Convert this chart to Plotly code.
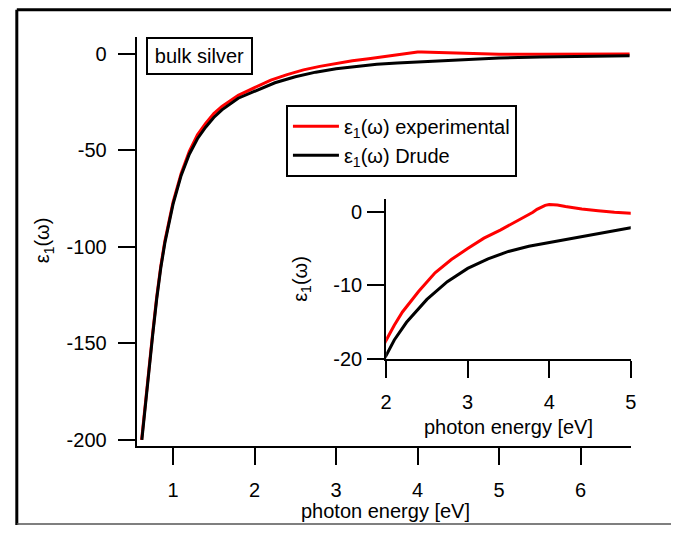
import plotly.graph_objects as go

# ---- data ----
energy_drude = [0.618, 0.65, 0.7, 0.75, 0.8, 0.85, 0.9, 0.95, 1.0, 1.1, 1.2, 1.3, 1.4,
                1.5, 1.6, 1.8, 2.0, 2.1, 2.25, 2.5, 2.75, 3.0, 3.25, 3.5, 3.75, 4.0,
                4.5, 5.0, 5.5, 6.0, 6.6]
eps_drude = [-200, -186, -166, -146, -127, -111, -98, -87, -78, -63, -52, -44, -38,
             -33, -29, -23, -19.5, -17.4, -15.0, -11.9, -9.5, -7.7, -6.4, -5.4, -4.7,
             -4.2, -3.1, -2.2, -1.7, -1.3, -1.0]

energy_exp = [0.615, 0.65, 0.7, 0.75, 0.8, 0.85, 0.9, 0.95, 1.0, 1.1, 1.2, 1.3, 1.4,
              1.5, 1.6, 1.8, 2.0, 2.1, 2.2, 2.4, 2.6, 2.8, 3.0, 3.2, 3.4, 3.6, 3.7,
              3.75, 3.8, 3.85, 3.9, 3.95, 4.0, 4.05, 4.1, 4.2, 4.4, 4.6, 4.8, 5.0,
              5.5, 6.0, 6.6]
eps_exp = [-200, -185, -165, -145, -126, -110, -97, -86, -77, -62, -50.5, -42, -36,
           -31, -27.3, -21.5, -17.4, -15.4, -13.6, -10.8, -8.3, -6.5, -5.0, -3.6, -2.5,
           -1.3, -0.7, -0.45, -0.1, 0.3, 0.6, 0.85, 0.95, 0.97, 0.9, 0.7, 0.36, 0.13,
           -0.1, -0.22, -0.2, -0.1, -0.05]

main_xticks = [1, 2, 3, 4, 5, 6]
main_xtick_text = ["1", "2", "3", "4", "5", "6"]
main_yticks = [0, -50, -100, -150, -200]
main_ytick_text = ["0", "-50", "-100", "-150", "-200"]
inset_xticks = [2, 3, 4, 5]
inset_xtick_text = ["2", "3", "4", "5"]
inset_yticks = [0, -10, -20]
inset_ytick_text = ["0", "-10", "-20"]

W, H = 677, 536
FONT = "Liberation Sans, Arial, sans-serif"
FS = 20


def px(x):
    return x / W


def py(y):
    return 1 - y / H


fig = go.Figure()

# main plot (experimental drawn first so the Drude curve lies on top)
fig.add_trace(go.Scatter(x=energy_exp, y=eps_exp, mode="lines",
                         line=dict(color="#ff0000", width=3),
                         name="ε<sub>1</sub>(ω) experimental", legendrank=1))
fig.add_trace(go.Scatter(x=energy_drude, y=eps_drude, mode="lines",
                         line=dict(color="black", width=3),
                         name="ε<sub>1</sub>(ω) Drude", legendrank=2))
# inset
fig.add_trace(go.Scatter(x=energy_exp, y=eps_exp, mode="lines",
                         line=dict(color="#ff0000", width=3), showlegend=False,
                         xaxis="x2", yaxis="y2"))
fig.add_trace(go.Scatter(x=energy_drude, y=eps_drude, mode="lines",
                         line=dict(color="black", width=3), showlegend=False,
                         xaxis="x2", yaxis="y2"))

axis_common = dict(showgrid=False, zeroline=False, showline=True, linecolor="black",
                   linewidth=2, ticks="outside", ticklen=17, tickwidth=2,
                   tickcolor="black", tickfont=dict(family=FONT, size=FS, color="black"))

fig.update_layout(
    width=W, height=H,
    margin=dict(l=0, r=0, t=0, b=0),
    paper_bgcolor="white", plot_bgcolor="rgba(0,0,0,0)",
    font=dict(family=FONT, size=FS, color="black"),
    xaxis=dict(domain=[px(133), px(636)], range=[0.554, 6.614], tickvals=main_xticks,
               ticktext=main_xtick_text, ticklabelstandoff=8, anchor="y", **axis_common),
    yaxis=dict(domain=[py(455), py(38)], range=[-203.0, 8.6], tickvals=main_yticks,
               ticktext=main_ytick_text, ticklabelstandoff=7, anchor="x", **axis_common),
    xaxis2=dict(domain=[px(387), px(636)], range=[2, 5], tickvals=inset_xticks,
                ticktext=inset_xtick_text, ticklabelstandoff=7, anchor="y2", **axis_common),
    yaxis2=dict(domain=[py(366.7), py(202.7)], range=[-20, 1.77], tickvals=inset_yticks,
                ticktext=inset_ytick_text, ticklabelstandoff=1, anchor="x2", **axis_common),
    legend=dict(x=px(285), y=py(107), xanchor="left", yanchor="top",
                bgcolor="white", bordercolor="black", borderwidth=2, itemwidth=46,
                traceorder="normal",
                font=dict(family=FONT, size=FS, color="black")),
    showlegend=True,
)

annotations = [
    dict(text="bulk silver", x=px(143), y=py(38), xanchor="left", yanchor="top",
         showarrow=False, bordercolor="black", borderwidth=2, borderpad=3,
         width=97, height=28, align="center",
         bgcolor="white", font=dict(family=FONT, size=FS)),
    dict(text="photon energy [eV]", x=px(386), y=py(522), xanchor="center",
         yanchor="middle", showarrow=False, font=dict(family=FONT, size=FS)),
    dict(text="ε<sub>1</sub>(ω)", x=px(39), y=py(245), xanchor="center",
         yanchor="middle", textangle=-90, showarrow=False,
         font=dict(family=FONT, size=FS)),
    dict(text="photon energy [eV]", x=px(512), y=py(436), xanchor="center",
         yanchor="middle", showarrow=False, font=dict(family=FONT, size=FS)),
    dict(text="ε<sub>1</sub>(ω)", x=px(300), y=py(285), xanchor="center",
         yanchor="middle", textangle=-90, showarrow=False,
         font=dict(family=FONT, size=FS)),
]
for a in annotations:
    a.update(xref="paper", yref="paper")
fig.update_layout(annotations=annotations)

shapes = [
    dict(type="line", x0=px(11), x1=1.0, y0=py(10), y1=py(10),
         line=dict(color="black", width=3)),
    dict(type="line", x0=px(11), x1=px(11), y0=py(10), y1=0,
         line=dict(color="black", width=3)),
    dict(type="line", x0=px(11), x1=1.0, y0=py(535), y1=py(535),
         line=dict(color="#555555", width=1.5)),
]
for s in shapes:
    s.update(xref="paper", yref="paper")
fig.update_layout(shapes=shapes)

fig.write_html("out.html")
